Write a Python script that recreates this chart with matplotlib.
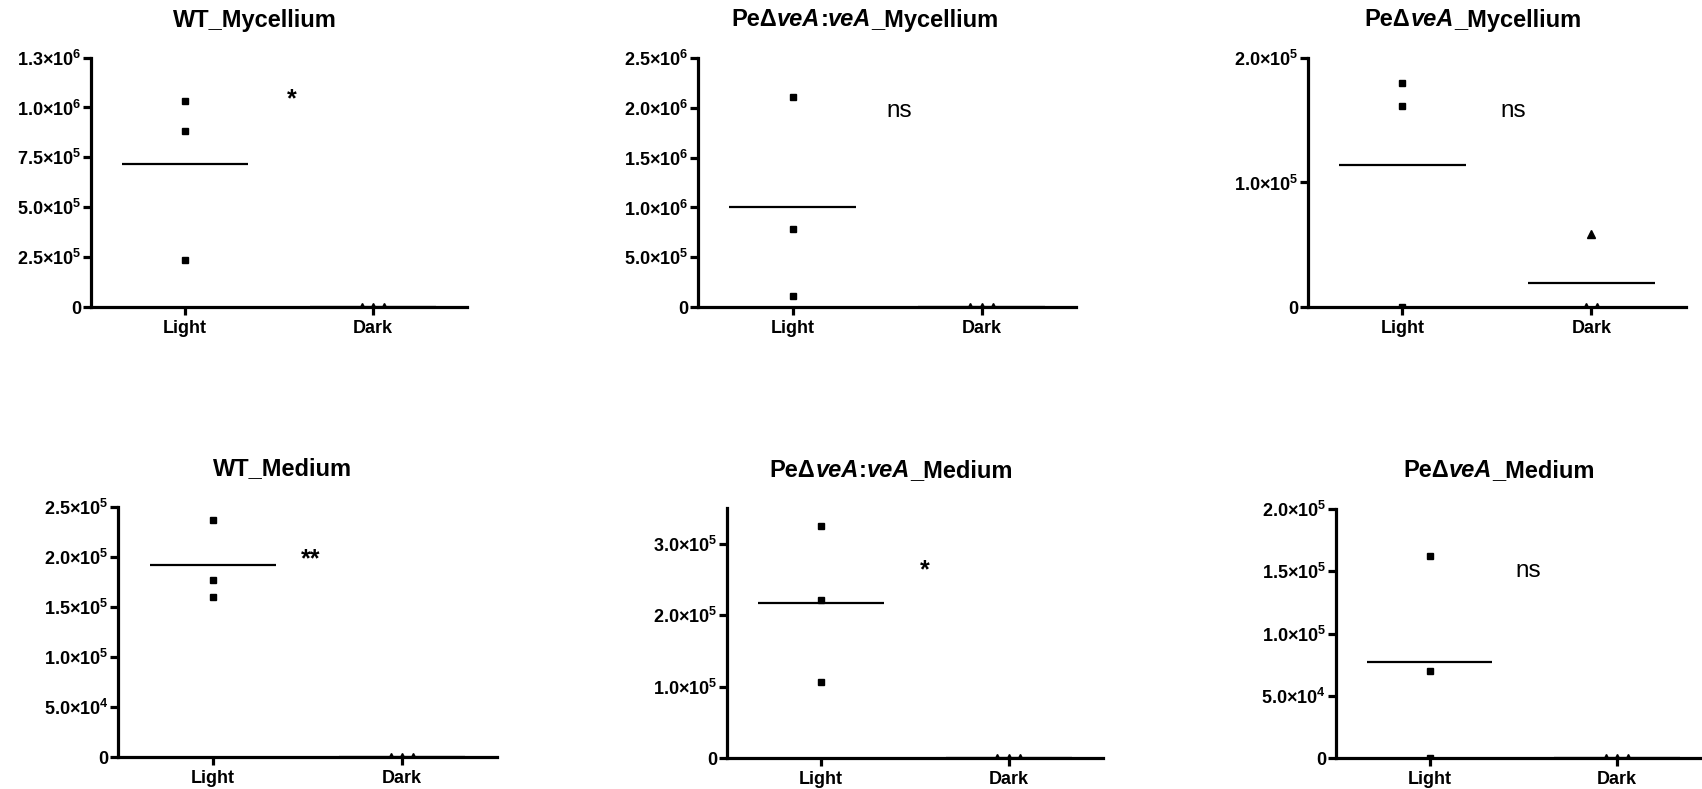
import matplotlib
matplotlib.use('Agg')
import matplotlib.pyplot as plt
import numpy as np
from matplotlib.offsetbox import TextArea, HPacker, AnnotationBbox

plt.rcParams['font.family'] = ['Liberation Sans', 'DejaVu Sans']
plt.rcParams['mathtext.fontset'] = 'custom'
plt.rcParams['mathtext.rm'] = 'Liberation Sans'
plt.rcParams['mathtext.bf'] = 'Liberation Sans:bold'

categories = ['Light', 'Dark']

# titles: (text, italic) pieces
titles = [
    [('WT_Mycellium', False)],
    [('Pe\u0394', False), ('veA', True), (':', False), ('veA', True), ('_Mycellium', False)],
    [('Pe\u0394', False), ('veA', True), ('_Mycellium', False)],
    [('WT_Medium', False)],
    [('Pe\u0394', False), ('veA', True), (':', False), ('veA', True), ('_Medium', False)],
    [('Pe\u0394', False), ('veA', True), ('_Medium', False)],
]

light_values = [
    [1.031e6, 0.883e6, 0.235e6],
    [2.106e6, 0.780e6, 0.113e6],
    [1.80e5, 1.61e5, 0.0],
    [2.366e5, 1.773e5, 1.603e5],
    [3.252e5, 2.216e5, 1.074e5],
    [1.621e5, 0.70e5, 0.0],
]
dark_values = [
    [0.0, 0.0, 0.0],
    [0.0, 0.0, 0.0],
    [0.59e5, 0.0, 0.0],
    [0.0, 0.0, 0.0],
    [0.0, 0.0, 0.0],
    [0.0, 0.0, 0.0],
]

y_max = [1.25e6, 2.5e6, 2.0e5, 2.5e5, 3.5e5, 2.0e5]
y_ticks = [
    [0, 2.5e5, 5.0e5, 7.5e5, 1.0e6, 1.25e6],
    [0, 5.0e5, 1.0e6, 1.5e6, 2.0e6, 2.5e6],
    [0, 1.0e5, 2.0e5],
    [0, 5.0e4, 1.0e5, 1.5e5, 2.0e5, 2.5e5],
    [0, 1.0e5, 2.0e5, 3.0e5],
    [0, 5.0e4, 1.0e5, 1.5e5, 2.0e5],
]
signif = ['*', 'ns', 'ns', '**', '*', 'ns']
signif_pos = [(0.57, 1.043e6), (0.563, 1.963e6), (0.586, 1.57e5),
              (0.518, 1.976e5), (0.556, 2.634e5), (0.524, 1.503e5)]

# layout in pixels: left, right, y of top, y of zero (from top of image)
W, H = 1702, 789
axes_px = [
    (91, 467, 57.5, 307.3),
    (698, 1076, 57.7, 307.3),
    (1307.7, 1686, 57.7, 307.3),
    (118.3, 496.7, 506.7, 757.3),
    (726.7, 1102.7, 508.3, 758.3),
    (1335.7, 1711, 509, 758.3),
]
title_px = [(255, 20), (865, 20), (1473, 20), (283, 469), (891, 470.5), (1499, 470.5)]

TIMES = '\u00d7'


def sci_label(v):
    if v == 0:
        return '0'
    e = int(np.floor(np.log10(v)))
    m = round(v / 10 ** e + 1e-9, 1)
    return '$\\mathbf{%.1f{%s}10^{%d}}$' % (m, TIMES, e)


def spread(vals, step=0.06):
    # spread identical values sideways like a dot plot
    vals = np.asarray(vals)
    offs = np.zeros(len(vals))
    for v in np.unique(vals):
        idx = np.where(vals == v)[0]
        n = len(idx)
        offs[idx] = (np.arange(n) - (n - 1) / 2) * step
    return offs


fig = plt.figure(figsize=(W / 100, H / 100), dpi=100)

for i in range(6):
    l, r, t, b = axes_px[i]
    ax = fig.add_axes([l / W, (H - b) / H, (r - l) / W, (b - t) / H])
    lv = np.array(light_values[i])
    dv = np.array(dark_values[i])
    ax.plot(0 + spread(lv), lv, 's', color='black', markersize=5, zorder=2)
    ax.plot(1 + spread(dv), dv, '^', color='black', markersize=5.5, zorder=2)
    ax.hlines(np.mean(lv), -0.335, 0.335, color='black', lw=1.6)
    ax.hlines(np.mean(dv), 1 - 0.335, 1 + 0.335, color='black', lw=1.6)
    ax.set_xlim(-0.5, 1.5)
    ax.set_ylim(0, y_max[i])
    ax.set_xticks([0, 1])
    ax.set_xticklabels(categories, fontsize=13, fontweight='bold')
    ax.set_yticks(y_ticks[i])
    ax.set_yticklabels([sci_label(v) for v in y_ticks[i]], fontsize=13, fontweight='bold')
    for s in ['top', 'right']:
        ax.spines[s].set_visible(False)
    for s in ['left', 'bottom']:
        ax.spines[s].set_linewidth(2.3)
    ax.tick_params(axis='both', width=2.3, length=6)
    ax.tick_params(axis='y', pad=1)
    ax.tick_params(axis='x', pad=3)
    ax.patch.set_alpha(0)

    tx, ty = signif_pos[i]
    if signif[i] == 'ns':
        ax.text(tx, ty, 'ns', fontsize=17.5, ha='center', va='center')
    else:
        ax.text(tx, ty, signif[i], fontsize=18, fontweight='bold', ha='center', va='center')

    boxes = [TextArea(txt, textprops=dict(fontsize=17, fontweight='bold',
                                          fontstyle='italic' if it else 'normal'))
             for txt, it in titles[i]]
    pack = HPacker(children=boxes, align='baseline', pad=0, sep=0)
    px, py = title_px[i]
    ab = AnnotationBbox(pack, (px, H - py), xycoords='figure pixels', frameon=False,
                        box_alignment=(0.5, 0.5))
    fig.add_artist(ab)

fig.savefig('out.png', dpi=100)
